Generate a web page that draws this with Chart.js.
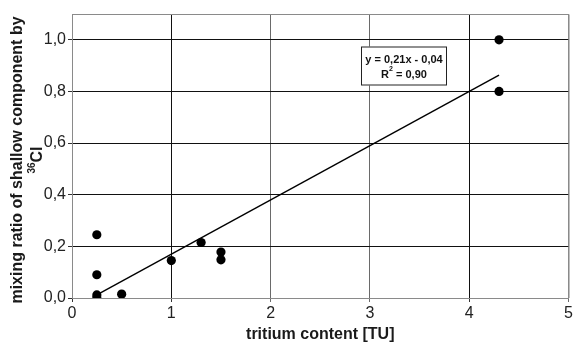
<!DOCTYPE html>
<html>
<head>
<meta charset="utf-8">
<script src="https://cdn.jsdelivr.net/npm/chart.js@4/dist/chart.umd.min.js"></script>
<style>
  html, body { margin: 0; padding: 0; background: #fff; }
  #wrap { width: 575px; height: 345px; position: relative; }
</style>
</head>
<body>
<div id="wrap"><canvas id="c"></canvas></div>
<script>
// Measured samples: tritium content vs. mixing ratio of the shallow component
const tritiumTU   = [0.25, 0.25, 0.25, 0.25, 0.5, 1.0, 1.3, 1.5, 1.5, 4.3, 4.3];
const mixingRatio = [0.245, 0.09, 0.012, 0.0, 0.015, 0.145, 0.215, 0.178, 0.148, 1.0, 0.80];

// Axis ticks
const xTicks = [0, 1, 2, 3, 4, 5];
const yTicks = [0, 0.2, 0.4, 0.6, 0.8, 1.0];

// Linear fit shown on the chart
const fitSlope = 0.21;
const fitIntercept = -0.04;
const fitR2 = 0.90;
const fitRange = [0.25, 4.3];

const comma = (v, d) => v.toFixed(d).replace('.', ',');

const points = tritiumTU.map((x, i) => ({ x, y: mixingRatio[i] }));
const fitLine = fitRange.map(x => ({ x, y: fitSlope * x + fitIntercept }));

const FONT = '"Liberation Sans", Arial, Helvetica, sans-serif';
const EDGE = '#8a8a8a';
const INK = '#1a1a1a';

// Border on the top and right of the plot area
const framePlugin = {
  id: 'frame',
  beforeDatasetsDraw(chart) {
    const { ctx, chartArea: a } = chart;
    ctx.save();
    ctx.strokeStyle = EDGE;
    ctx.lineWidth = 1;
    ctx.beginPath();
    ctx.moveTo(a.left, a.top + 0.5);
    ctx.lineTo(a.right + 0.5, a.top + 0.5);
    ctx.lineTo(a.right + 0.5, a.bottom);
    ctx.stroke();
    ctx.restore();
  }
};

// Axis titles (the y title carries a superscript isotope label)
const titlesPlugin = {
  id: 'titles',
  afterDraw(chart) {
    const { ctx, chartArea: a } = chart;
    ctx.save();
    ctx.fillStyle = INK;
    ctx.textBaseline = 'middle';
    ctx.textAlign = 'center';
    ctx.font = 'bold 16px ' + FONT;
    ctx.fillText('tritium content [TU]', (a.left + a.right) / 2, 335);

    const cy = 160;
    ctx.translate(18, cy);
    ctx.rotate(-Math.PI / 2);
    ctx.fillText('mixing ratio of shallow component by', 0, 0);
    ctx.restore();

    ctx.save();
    ctx.fillStyle = INK;
    ctx.translate(37, cy);
    ctx.rotate(-Math.PI / 2);
    ctx.textBaseline = 'middle';
    ctx.font = 'bold 10px ' + FONT;
    const sup = '36';
    const wSup = ctx.measureText(sup).width;
    ctx.font = 'bold 16px ' + FONT;
    const main = 'Cl';
    const wMain = ctx.measureText(main).width;
    const start = -(wSup + wMain) / 2;
    ctx.textAlign = 'left';
    ctx.fillText(main, start + wSup, 1);
    ctx.font = 'bold 10px ' + FONT;
    ctx.fillText(sup, start, -5);
    ctx.restore();
  }
};

// Boxed regression equation
const equationPlugin = {
  id: 'equation',
  afterDatasetsDraw(chart, args, opts) {
    const { ctx, scales } = chart;
    const cx = Math.round(scales.x.getPixelForValue(opts.x));
    const cy = Math.round(scales.y.getPixelForValue(opts.y));
    const w = opts.width, h = opts.height;
    const l = cx - w / 2, t = cy - h / 2;
    ctx.save();
    ctx.fillStyle = '#fff';
    ctx.fillRect(l, t, w, h);
    ctx.strokeStyle = '#222';
    ctx.lineWidth = 1;
    ctx.strokeRect(l + 0.5, t + 0.5, w - 1, h - 1);
    ctx.fillStyle = '#111';
    ctx.textBaseline = 'middle';
    ctx.textAlign = 'center';
    ctx.font = 'bold 11px ' + FONT;
    const sign = fitIntercept < 0 ? '-' : '+';
    ctx.fillText('y = ' + comma(fitSlope, 2) + 'x ' + sign + ' ' + comma(Math.abs(fitIntercept), 2), cx, t + 13);
    // R² line with superscript
    const a1 = 'R', a2 = ' = ' + comma(fitR2, 2);
    ctx.font = 'bold 11px ' + FONT;
    const w1 = ctx.measureText(a1).width, w3 = ctx.measureText(a2).width;
    ctx.font = 'bold 7px ' + FONT;
    const w2 = ctx.measureText('2').width;
    const x0 = cx - (w1 + w2 + w3) / 2;
    ctx.textAlign = 'left';
    ctx.font = 'bold 11px ' + FONT;
    ctx.fillText(a1, x0, t + 28);
    ctx.font = 'bold 7px ' + FONT;
    ctx.fillText('2', x0 + w1, t + 23);
    ctx.font = 'bold 11px ' + FONT;
    ctx.fillText(a2, x0 + w1 + w2, t + 28);
    ctx.restore();
  }
};

new Chart(document.getElementById('c'), {
  type: 'scatter',
  data: {
    datasets: [
      {
        label: 'samples',
        data: points,
        pointRadius: 4.6,
        pointHoverRadius: 4.6,
        backgroundColor: '#000',
        borderColor: '#000',
        borderWidth: 0,
        order: 1
      },
      {
        label: 'fit',
        type: 'line',
        data: fitLine,
        borderColor: '#000',
        borderWidth: 1.4,
        pointRadius: 0,
        fill: false,
        order: 2
      }
    ]
  },
  options: {
    responsive: true,
    maintainAspectRatio: false,
    animation: false,
    devicePixelRatio: 1,
    layout: { padding: { left: 0, top: 14, right: 6, bottom: 0 } },
    plugins: {
      legend: { display: false },
      tooltip: { enabled: false },
      equation: { x: 3.34, y: 0.898, width: 86, height: 39 }
    },
    scales: {
      x: {
        type: 'linear',
        min: 0,
        max: 5,
        afterBuildTicks: s => { s.ticks = xTicks.map(v => ({ value: v })); },
        afterFit: s => { s.height = 47; },
        ticks: {
          color: '#222',
          font: { family: FONT, size: 16 },
          padding: 2,
          maxRotation: 0,
          callback: v => String(v)
        },
        grid: {
          color: c => (c.tick && (c.tick.value === 0 || c.tick.value === 5)) ? EDGE
                    : (c.tick && (c.tick.value === 2 || c.tick.value === 3)) ? '#6a6a6a' : '#111',
          tickColor: c => (c.tick && (c.tick.value === 2 || c.tick.value === 3 || c.tick.value === 5)) ? '#6a6a6a' : '#333',
          lineWidth: 1,
          tickLength: 4,
          drawTicks: true
        },
        border: { display: true, color: EDGE, width: 1 }
      },
      y: {
        type: 'linear',
        min: 0,
        max: 1.1,
        afterBuildTicks: s => { s.ticks = yTicks.map(v => ({ value: v })); },
        afterFit: s => { s.width = 72; },
        ticks: {
          color: '#222',
          font: { family: FONT, size: 16 },
          padding: 2,
          callback: v => comma(v, 1)
        },
        grid: {
          color: c => (c.tick && c.tick.value === 0) ? EDGE : '#111',
          tickColor: '#333',
          lineWidth: 1,
          tickLength: 4,
          drawTicks: true
        },
        border: { display: true, color: EDGE, width: 1 }
      }
    }
  },
  plugins: [framePlugin, equationPlugin, titlesPlugin]
});
</script>
</body>
</html>
